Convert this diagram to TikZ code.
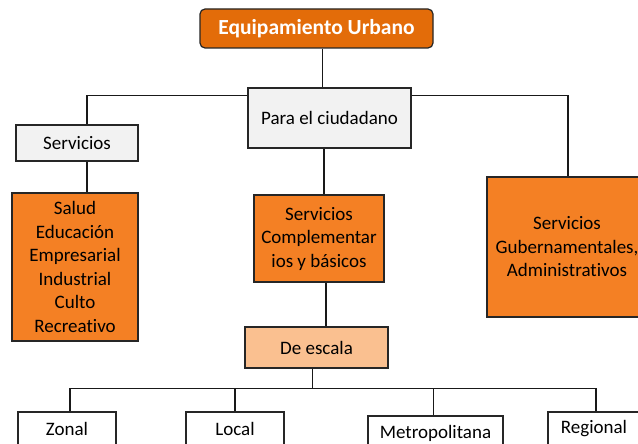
\documentclass[tikz,border=0pt]{standalone}
\usepackage{fontspec}
\setmainfont[Ligatures=NoCommon]{Carlito}
\definecolor{darkorange}{HTML}{E36C09}
\definecolor{midorange}{HTML}{F48024}
\definecolor{lightorange}{HTML}{FAC090}
\definecolor{boxgray}{HTML}{F2F2F2}

\begin{document}
\begin{tikzpicture}[x=1pt, y=-1pt,
    box/.style={draw=black!85, line width=1.2pt, inner sep=0pt, align=center,
      font=\fontsize{19}{23.5}\selectfont},
    titlebox/.style={box, fill=darkorange, rounded corners=5pt, text=white,
      font=\fontsize{21.5}{25}\selectfont\bfseries},
    graybox/.style={box, fill=boxgray},
    orangebox/.style={box, fill=midorange},
    line/.style={draw=black!90, line width=1.2pt}]
      \useasboundingbox (0, 0) rectangle (638, 444);
      \clip (0, 0) rectangle (638, 444);
      \fill [white] (0, 0) rectangle (638, 444);

      \node [titlebox, minimum width=233, minimum height=39] (title) at (316.5, 28.5) {Equipamiento Urbano};
      \node [graybox, minimum width=163, minimum height=60] (para) at (329.5, 118) {Para el ciudadano};
      \node [graybox, minimum width=122, minimum height=36] (serv) at (77, 143) {Servicios};
      \node [orangebox, minimum width=126, minimum height=148] (salud) at (75, 267)
        {Salud\\Educación\\Empresarial\\Industrial\\Culto\\Recreativo};
      \node [orangebox, minimum width=130, minimum height=87] (compl) at (319, 238.5)
        {Servicios\\Complementar\\ios y básicos};
      \node [orangebox, minimum width=160, minimum height=140] (gub) at (567, 247)
        {Servicios\\Gubernamentales,\\Administrativos};
      \node [box, fill=lightorange, minimum width=143, minimum height=41] (escala) at (316.5, 347.5) {De escala};

      \node [box, fill=white, minimum width=98, minimum height=34] (zonal) at (67, 429) {Zonal};
      \node [box, fill=white, minimum width=98, minimum height=34] (local) at (235, 429) {Local};
      \node [box, fill=white, minimum width=135, minimum height=34] (metro) at (435.5, 433) {Metropolitana};
      \node [box, fill=white, minimum width=92, minimum height=34] (regional) at (594, 429) {Regional};

      \draw [line] ([xshift=6]title.south) -- ([xshift=6]title.south |- para.north);
      \draw [line] ([yshift=-8]para.north west) -| ([xshift=10]serv.north);
      \draw [line] ([yshift=-8]para.north east) -| ([xshift=1]gub.north);
      \draw [line] ([xshift=10]serv.south) -- ([xshift=10]serv.south |- salud.north);
      \draw [line] ([xshift=5]compl.north) -- ([xshift=5]compl.north |- para.south);
      \draw [line] ([xshift=7]compl.south) -- ([xshift=7]compl.south |- escala.north);
      \draw [line] ([xshift=-4]escala.south) -- ++(0, 20) coordinate (bus);
      \draw [line] ([xshift=3]zonal.north) |- (bus) -| ([xshift=2]regional.north);
      \draw [line] (local.north) -- (local.north |- bus);
      \draw [line] ([xshift=-2]metro.north) -- ([xshift=-2]metro.north |- bus);
    \end{tikzpicture}
\end{document}
